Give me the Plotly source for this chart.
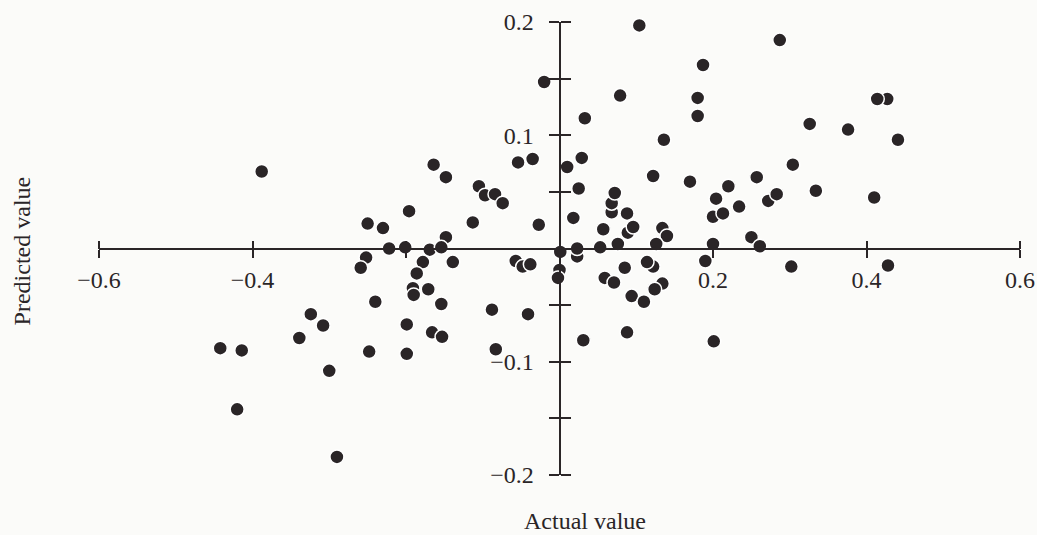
import plotly.graph_objects as go

# Data (actual value, predicted value)
x_actual = [
    -0.191, 0.023, 0.000, 0.427, 0.068, 0.068, 0.089, 0.134, 0.122, 0.134,
    -0.388, -0.324, -0.308, -0.339, -0.442, -0.414, -0.300, -0.420, -0.290,
    -0.164, -0.148, -0.054, -0.035, -0.105, -0.097, -0.084, -0.074, -0.196,
    -0.113, -0.027, -0.250, -0.230, -0.148, -0.222, -0.201, -0.169, -0.154,
    -0.252, -0.259, -0.178, -0.139, -0.057, -0.048, -0.038, -0.186, -0.190,
    -0.171, -0.240, -0.154, -0.088, -0.041, -0.199, -0.166, -0.153, -0.248,
    -0.199, -0.083,
    -0.020, 0.033, 0.010, 0.029, 0.025, 0.018, 0.001, 0.023, 0.031, -0.002,
    0.104, 0.287, 0.187, 0.079, 0.180, 0.180, 0.414, 0.326, 0.376, 0.441,
    0.136, 0.304, 0.122, 0.170, 0.257, 0.220, 0.334, 0.410, 0.072, 0.088,
    0.204, 0.234, 0.200, 0.213, 0.272, 0.283, 0.057, 0.096, 0.140, 0.053,
    0.076, 0.126, 0.200, 0.250, 0.261,
    0.085, 0.114, 0.190, 0.302, 0.059, 0.071, 0.094, 0.110, 0.124, 0.088,
    0.201, 0.428,
]
y_pred = [
    -0.035, -0.007, -0.019, 0.132, 0.032, 0.040, 0.014, 0.018, -0.016, -0.031,
    0.068, -0.058, -0.068, -0.079, -0.088, -0.090, -0.108, -0.142, -0.184,
    0.074, 0.063, 0.076, 0.079, 0.055, 0.047, 0.048, 0.040, 0.033,
    0.023, 0.021, 0.022, 0.018, 0.010, 0.000, 0.001, -0.001, 0.001,
    -0.008, -0.017, -0.012, -0.012, -0.011, -0.016, -0.014, -0.022, -0.041,
    -0.036, -0.047, -0.049, -0.054, -0.058, -0.067, -0.074, -0.078, -0.091,
    -0.093, -0.089,
    0.147, 0.115, 0.072, 0.080, 0.053, 0.027, -0.003, 0.000, -0.081, -0.026,
    0.197, 0.184, 0.162, 0.135, 0.133, 0.117, 0.132, 0.110, 0.105, 0.096,
    0.096, 0.074, 0.064, 0.059, 0.063, 0.055, 0.051, 0.045, 0.049, 0.031,
    0.044, 0.037, 0.028, 0.031, 0.042, 0.048, 0.017, 0.019, 0.011, 0.001,
    0.004, 0.004, 0.004, 0.010, 0.002,
    -0.017, -0.012, -0.011, -0.016, -0.026, -0.030, -0.042, -0.047, -0.036, -0.074,
    -0.082, -0.015,
]

x_tickvals = [-0.6, -0.4, -0.2, 0.2, 0.4, 0.6]
x_ticktext = ["\u22120.6", "\u22120.4", "", "0.2", "0.4", "0.6"]
y_tickvals = [-0.2, -0.15, -0.1, -0.05, 0.05, 0.1, 0.15, 0.2]
y_ticktext = ["\u22120.2", "", "\u22120.1", "", "", "0.1", "", "0.2"]

INK = "#2a2527"
BG = "#fbfbf9"
FONT = dict(family="Liberation Serif, Times New Roman, serif", size=24, color=INK)

fig = go.Figure()
fig.add_trace(go.Scatter(
    x=x_actual, y=y_pred, mode="markers",
    marker=dict(size=14, color=INK, line=dict(color="white", width=1.5)),
    cliponaxis=False, showlegend=False, hoverinfo="skip",
))
# helper trace so the mirrored tick axes are drawn
fig.add_trace(go.Scatter(x=[], y=[], xaxis="x2", yaxis="y2", showlegend=False))

common = dict(showgrid=False, zeroline=False, tickwidth=2, tickcolor=INK,
              automargin=False)
fig.update_layout(
    width=1037, height=535, autosize=False,
    margin=dict(l=99, r=17, t=22, b=60),
    paper_bgcolor=BG, plot_bgcolor=BG,
    font=FONT,
    xaxis=dict(range=[-0.6, 0.6], anchor="free", position=0.5,
               showline=True, linewidth=2, linecolor=INK,
               ticks="outside", ticklen=8,
               tickvals=x_tickvals, ticktext=x_ticktext,
               tickfont=FONT, ticklabelstandoff=2, **common),
    xaxis2=dict(range=[-0.6, 0.6], overlaying="x", side="top", anchor="free",
                position=0.5, showline=False, ticks="outside", ticklen=8,
                tickvals=x_tickvals, showticklabels=False, **common),
    yaxis=dict(range=[-0.2, 0.2], anchor="free", position=0.5, side="left",
               showline=True, linewidth=2, linecolor=INK,
               ticks="outside", ticklen=10,
               tickvals=y_tickvals, ticktext=y_ticktext,
               tickfont=FONT, ticklabelstandoff=10, **common),
    yaxis2=dict(range=[-0.2, 0.2], overlaying="y", side="right", anchor="free",
                position=0.5, showline=False, ticks="outside", ticklen=10,
                tickvals=y_tickvals, showticklabels=False, **common),
    annotations=[
        dict(text="Actual value", xref="paper", yref="paper",
             x=0.528, y=-0.102, xanchor="center", yanchor="middle",
             showarrow=False, font=FONT),
        dict(text="Predicted value", xref="paper", yref="paper",
             x=-0.084, y=0.495, xanchor="center", yanchor="middle",
             textangle=-90, showarrow=False, font=FONT),
    ],
)

fig.write_html(
    "out.html",
    config={"displayModeBar": False},
    post_script="document.body.style.margin='0';document.body.style.background='%s';" % BG,
)
